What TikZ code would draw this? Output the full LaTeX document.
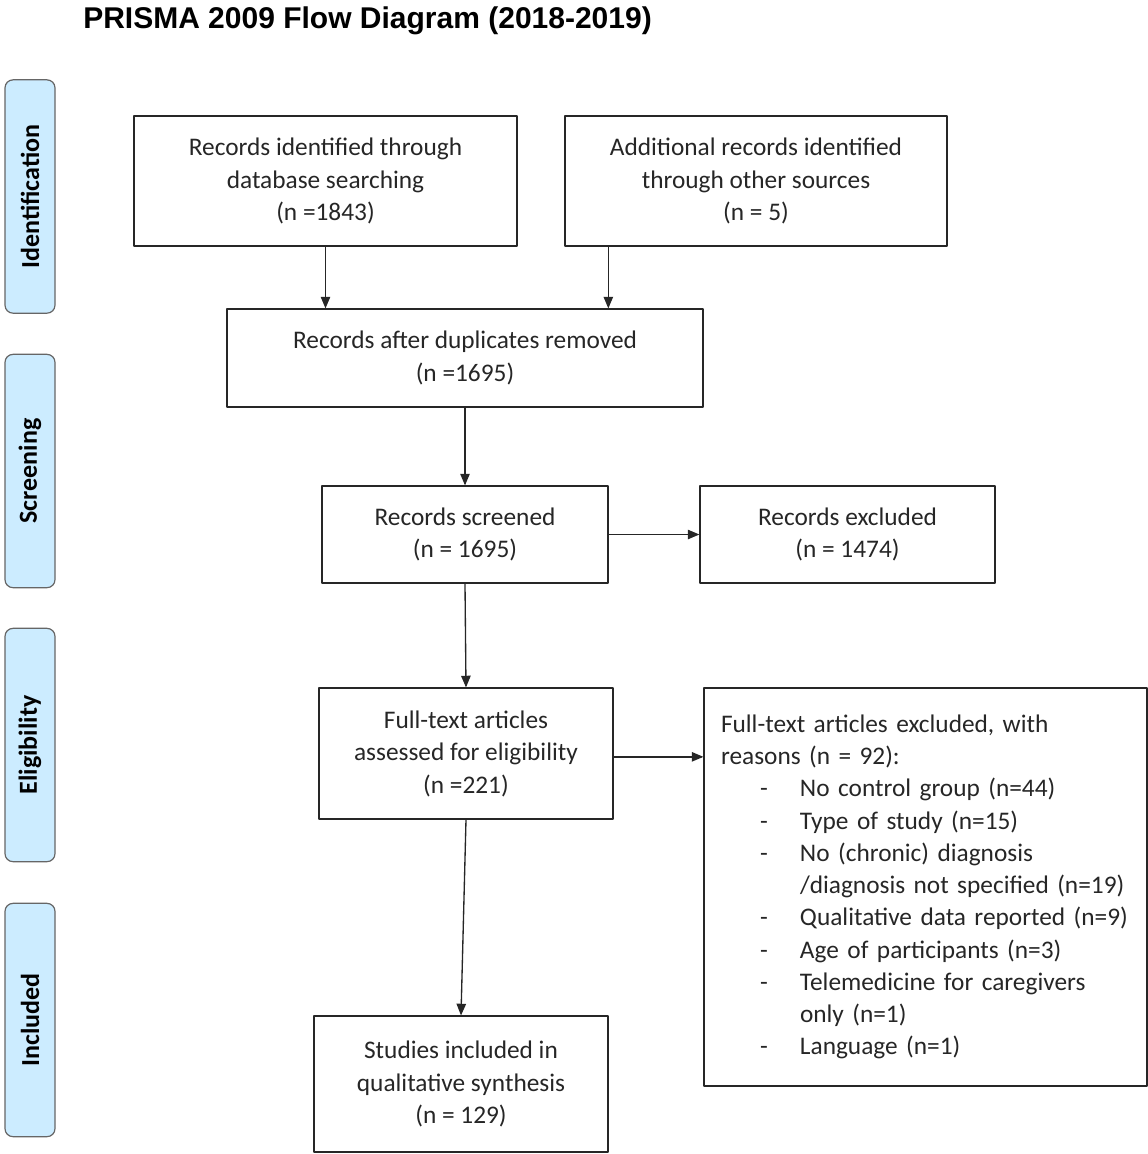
\documentclass[tikz,border=0pt]{standalone}
\usepackage{fontspec}
\setmainfont{Carlito}
\newfontfamily\titlefont{Liberation Sans}
\usetikzlibrary{arrows}
\definecolor{tabblue}{RGB}{204,236,255}
\newcommand{\reason}[1]{\makebox[59.25pt][l]{\hspace*{29.25pt}-}#1}
\newcommand{\reasonmore}[1]{\hspace*{59.25pt}#1}

\begin{document}
\begin{tikzpicture}[x=0.75pt,y=-0.75pt,line cap=round,line join=round,>=triangle 45,
  box/.style={draw=black!85,line width=1pt,align=center,inner sep=2pt,text=black!85,font=\fontsize{19}{24.4}\selectfont},
  tab/.style={draw=black!60,fill=tabblue,line width=0.9pt,rounded corners=6pt,rotate=90,minimum width=175pt,minimum height=37.5pt,text=black,font=\fontsize{19.5}{22}\selectfont\bfseries},
  flow/.style={->,line width=1pt,draw=black!85}]
\useasboundingbox (0,0) rectangle (1148,1154);
\node[anchor=west,inner sep=0pt,font=\titlefont\fontsize{22.5}{27}\selectfont\bfseries] (title) at (83,21) {PRISMA 2009 Flow Diagram (2018-2019)};
\node[tab] (identification) at (30,196.5) {Identification};
\node[tab] (screening) at (30,471) {Screening};
\node[tab] (eligibility) at (30,745) {Eligibility};
\node[tab] (included) at (30,1020) {Included};
\node[box,minimum width=287.25pt,minimum height=97.5pt] (dbrecords) at (325.5,181) {Records identified through\\database searching\\(n =1843)};
\node[box,minimum width=286.5pt,minimum height=97.5pt] (otherrecords) at (756,181) {Additional records identified\\through other sources\\(n = 5)};
\node[box,minimum width=357pt,minimum height=73.5pt] (dedup) at (465,358) {Records after duplicates removed\\(n =1695)};
\node[box,minimum width=214.5pt,minimum height=72.75pt] (screened) at (465,534.5) {Records screened\\(n = 1695)};
\node[box,minimum width=221.25pt,minimum height=72.75pt] (excluded) at (847.5,534.5) {Records excluded\\(n = 1474)};
\node[box,minimum width=220.5pt,minimum height=98.25pt] (fulltext) at (466,753.5) {Full-text articles\\assessed for eligibility\\(n =221)};
\node[box,align=left,text width=306.75pt,inner xsep=12.75pt,minimum height=298.5pt,font=\fontsize{19}{24.2}\selectfont] (fullexcl) at (925.5,887) {Full-text articles excluded, with\\reasons (n = 92):\\
\reason{No control group (n=44)}\\
\reason{Type of study (n=15)}\\
\reason{No (chronic) diagnosis}\\
\reasonmore{/diagnosis not specified (n=19)}\\
\reason{Qualitative data reported (n=9)}\\
\reason{Age of participants (n=3)}\\
\reason{Telemedicine for caregivers}\\
\reasonmore{only (n=1)}\\
\reason{Language (n=1)}\\[10pt]};
\node[box,minimum width=220.5pt,minimum height=102pt] (synthesis) at (461,1084) {Studies included in\\qualitative synthesis\\(n = 129)};
\draw[flow] (dbrecords.south) -- (dbrecords.south |- dedup.north);
\draw[flow] ([xshift=33pt]otherrecords.south west) -- ([xshift=33pt]otherrecords.south west |- dedup.north);
\draw[flow] (dedup.south) -- (screened.north);
\draw[flow] (screened.east) -- (excluded.west);
\draw[flow] (screened.south) -- (fulltext.north);
\draw[flow] ([yshift=-2.5pt]fulltext.east) -- ([yshift=-2.5pt]fulltext.east -| fullexcl.west);
\draw[flow] (fulltext.south) -- (synthesis.north);
\end{tikzpicture}
\end{document}
